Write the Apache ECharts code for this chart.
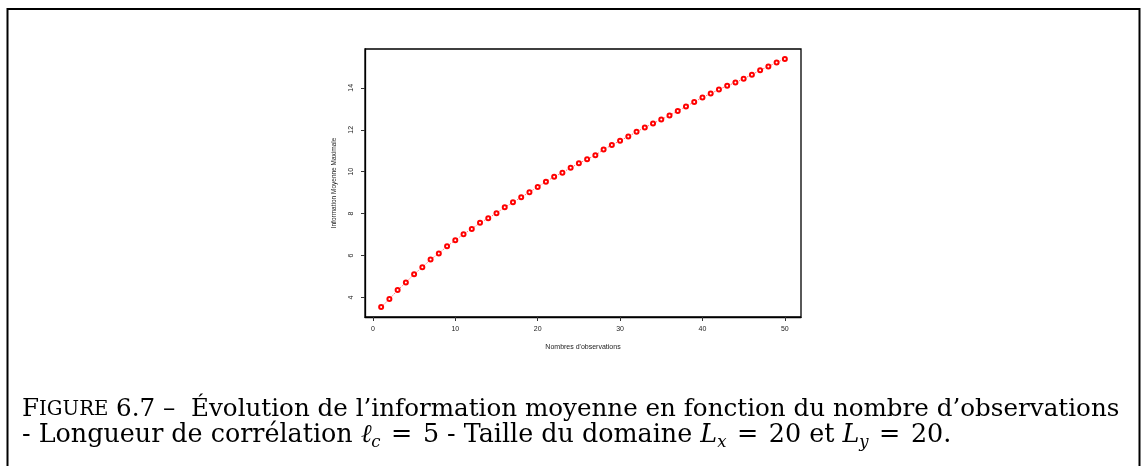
<!DOCTYPE html>
<html>
<head>
<meta charset="utf-8">
<script src="https://cdn.jsdelivr.net/npm/echarts@6/dist/echarts.min.js"></script>
<style>
  html, body { margin: 0; padding: 0; background: #fff; }
  #chart { width: 1141px; height: 466px; }
</style>
</head>
<body>
<div id="chart"></div>
<script>
// Number of observations (x) and the mean maximal information (y)
const observations = [1,2,3,4,5,6,7,8,9,10,11,12,13,14,15,16,17,18,19,20,
  21,22,23,24,25,26,27,28,29,30,31,32,33,34,35,36,37,38,39,40,
  41,42,43,44,45,46,47,48,49,50];
const meanInformation = [3.54,3.92,4.35,4.71,5.11,5.44,5.81,6.10,6.44,6.73,
  7.02,7.27,7.56,7.78,8.02,8.30,8.54,8.78,9.02,9.27,
  9.52,9.76,9.95,10.19,10.40,10.59,10.78,11.06,11.27,11.48,
  11.68,11.90,12.11,12.30,12.49,12.68,12.90,13.11,13.33,13.54,
  13.73,13.92,14.10,14.25,14.44,14.63,14.84,15.02,15.21,15.38];
const xTicks = [0, 10, 20, 30, 40, 50];
const yTicks = [4, 6, 8, 10, 12, 14];

const xTitle = "Nombres d'observations";
const yTitle = 'Information Moyenne Maximale';

// R-style axis range: data range padded by 4% on each side
function padded(arr) {
  const lo = Math.min(...arr), hi = Math.max(...arr);
  const d = (hi - lo) * 0.04;
  return [lo - d, hi + d];
}
const [xMin, xMax] = padded(observations);
const [yMin, yMax] = padded(meanInformation);

const points = observations.map((x, i) => [x, meanInformation[i]]);

const chart = echarts.init(document.getElementById('chart'), null, { renderer: 'canvas' });

const serif = "'DejaVu Serif', serif";

const caption1 = '{big|F}{sc|IGURE}{big| 6.7 –  Évolution de l’information moyenne en fonction du nombre d’observations}';
const caption2 = [
  '{big|- Longueur de corrélation }{it|ℓ}{sub|c}{eq|=}{big|5 - Taille du domaine }',
  '{it|L}{sub|x}{eq|=}{big|20 et }{it|L}{sub|y}{eq|=}{big|20.}'
].join('');

// caption styles: roman, small caps, math italic, relation, subscript
function captionStyles(size, eqPad) {
  const lh = 25;
  return {
    big: { fontFamily: serif, fontSize: size, lineHeight: lh, verticalAlign: 'top', color: '#000' },
    sc: { fontFamily: serif, fontSize: size * 0.8, lineHeight: lh, padding: [3, 0, 0, 0], verticalAlign: 'top', color: '#000' },
    it: { fontFamily: serif, fontStyle: 'italic', fontSize: size, lineHeight: lh, verticalAlign: 'top', color: '#000' },
    eq: { fontFamily: serif, fontSize: size, lineHeight: lh, padding: [0, eqPad, 0, eqPad], verticalAlign: 'top', color: '#000' },
    sub: { fontFamily: serif, fontStyle: 'italic', fontSize: size * 0.65, lineHeight: 16, padding: [11, 0, 0, 0], verticalAlign: 'top', color: '#000' }
  };
}

const axisFont = "'Liberation Sans', Arial, sans-serif";

chart.setOption({
  animation: false,
  backgroundColor: '#fff',
  grid: {
    left: 365, top: 49, right: 340, bottom: 149,
    show: true, borderColor: '#000', borderWidth: 1.3, backgroundColor: '#fff'
  },
  xAxis: {
    type: 'value',
    min: xMin, max: xMax,
    name: xTitle,
    nameLocation: 'middle',
    nameGap: 27,
    nameTextStyle: { fontFamily: axisFont, fontSize: 7, color: '#222' },
    splitLine: { show: false },
    axisLine: { show: true, onZero: false, lineStyle: { color: '#000', width: 1.3 } },
    axisTick: { show: true, length: 4, customValues: xTicks, lineStyle: { color: '#333', width: 1 } },
    axisLabel: { customValues: xTicks, fontFamily: axisFont, fontSize: 7, color: '#222', margin: 9 }
  },
  yAxis: {
    type: 'value',
    min: yMin, max: yMax,
    name: yTitle,
    nameLocation: 'middle',
    nameGap: 27,
    nameRotate: 90,
    nameTextStyle: { fontFamily: axisFont, fontSize: 6.5, color: '#222' },
    splitLine: { show: false },
    axisLine: { show: true, onZero: false, lineStyle: { color: '#000', width: 1.3 } },
    axisTick: { show: true, length: 4, customValues: yTicks, lineStyle: { color: '#333', width: 1 } },
    axisLabel: { customValues: yTicks, rotate: 90, fontFamily: axisFont, fontSize: 7, color: '#222', margin: 10 }
  },
  series: [{
    type: 'line',
    data: points,
    symbol: 'emptyCircle',
    symbolSize: 4,
    showSymbol: true,
    itemStyle: { color: '#ff0000', borderColor: '#ff0000', borderWidth: 1 },
    lineStyle: { color: '#ff3030', width: 1, opacity: 0.7, type: [1.5, 1.5] },
    emphasis: { disabled: true },
    silent: true
  }],
  graphic: [
    {
      type: 'rect',
      shape: { x: 7.5, y: 9, width: 1132, height: 500 },
      style: { fill: null, stroke: '#000', lineWidth: 2 },
      silent: true
    },
    {
      type: 'text',
      left: 22, top: 397,
      style: { text: caption1, rich: captionStyles(24.6, 12) }
    },
    {
      type: 'text',
      left: 22, top: 423,
      style: { text: caption2, rich: captionStyles(25.4, 10.5) }
    }
  ]
});
</script>
</body>
</html>
